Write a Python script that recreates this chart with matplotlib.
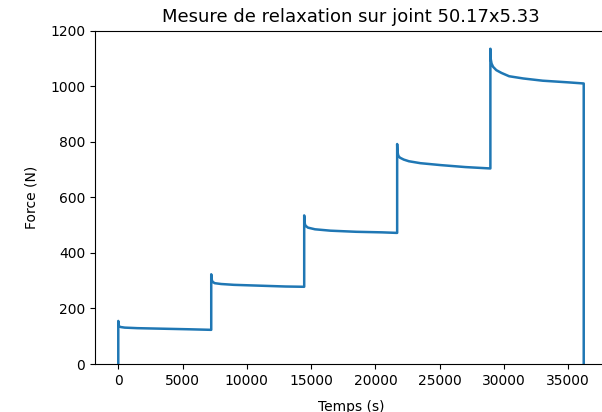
import matplotlib
matplotlib.use("Agg")
from matplotlib import pyplot as plt

# Temps (s) et force (N), palier par palier
temps_1 = [0, 0, 20, 80, 200, 500, 1500, 3500, 5500, 7230]
force_1 = [0, 155, 140, 135, 133, 131, 129, 127, 125, 123]

temps_2 = [7230, 7260, 7330, 7500, 8000, 9000, 11000, 13000, 14460]
force_2 = [323, 305, 296, 291, 288, 285, 282, 279, 278]

temps_3 = [14460, 14490, 14560, 14750, 15300, 16500, 18500, 20500, 21690]
force_3 = [535, 508, 498, 491, 485, 480, 476, 474, 472]

temps_4 = [21690, 21710, 21780, 21900, 22200, 22600, 23500, 25100, 27000, 28940]
force_4 = [792, 765, 750, 743, 736, 730, 723, 716, 709, 704]

temps_5 = [28940, 28960, 29030, 29150, 29400, 29800, 30400, 31500, 33000, 35000, 36200, 36200]
force_5 = [1135, 1100, 1082, 1070, 1058, 1048, 1036, 1028, 1020, 1014, 1010, 0]

temps = temps_1 + temps_2 + temps_3 + temps_4 + temps_5
force = force_1 + force_2 + force_3 + force_4 + force_5

fig = plt.figure(figsize=(6.02, 4.12), dpi=100)
# l'axe déborde à droite comme sur la capture d'origine
ax = fig.add_axes([95 / 602, 48 / 412, 512 / 602, 333.3 / 412])
ax.plot(temps, force, color="#1f77b4", linewidth=1.8)
ax.set_ylim(0, 1200)
ax.spines["right"].set_visible(False)
ax.set_title("Mesure de relaxation sur joint 50.17x5.33", fontsize=13)
ax.set_xlabel("Temps (s)", labelpad=8.5)
ax.set_ylabel("Force (N)", labelpad=8.5)

fig.savefig("out.png", dpi=100)
